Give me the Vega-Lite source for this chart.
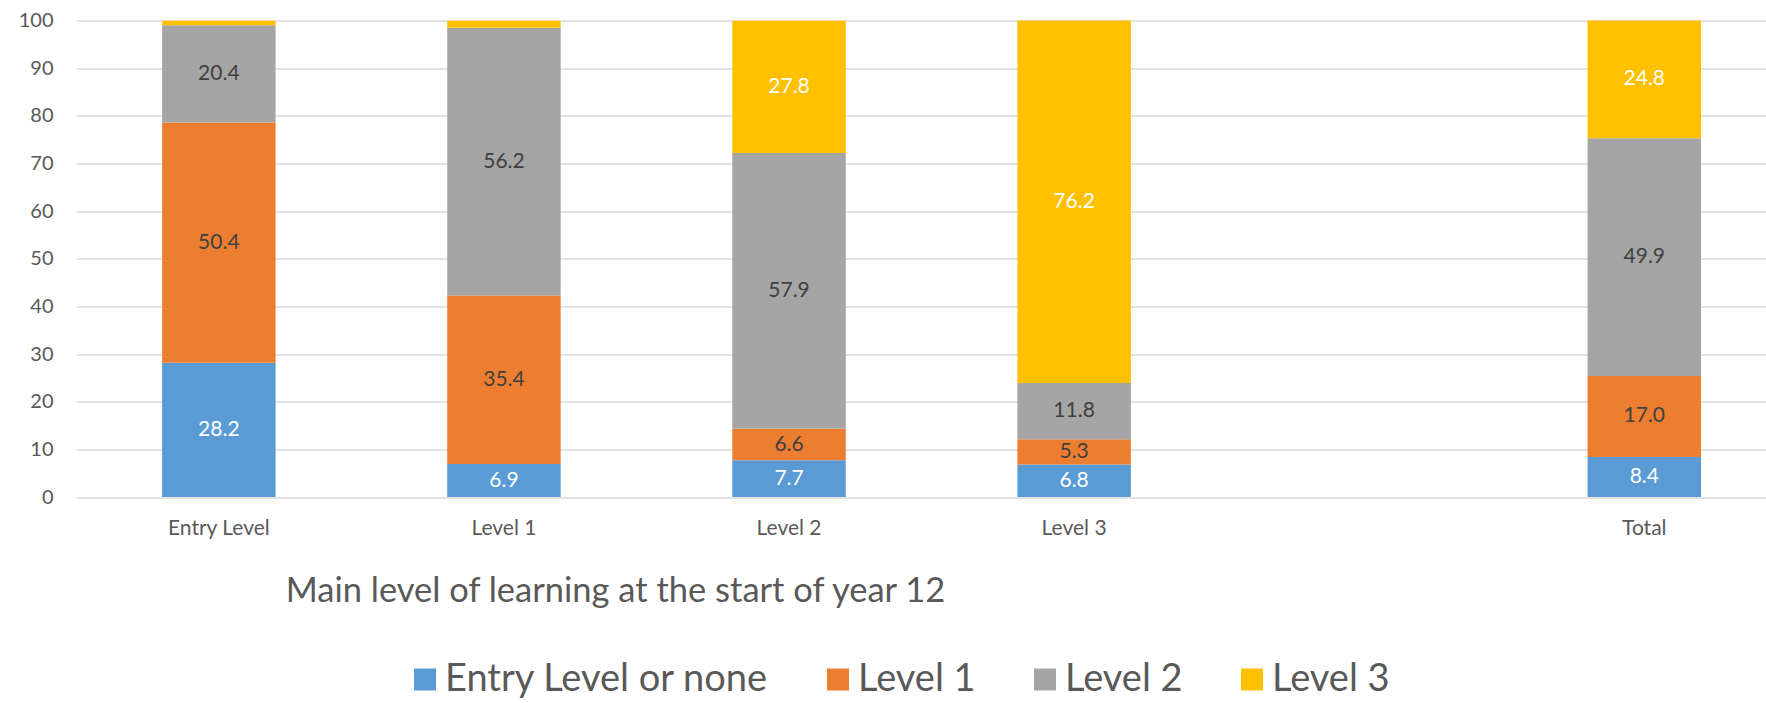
{
  "$schema": "https://vega.github.io/schema/vega-lite/v6.json",
  "autosize": {"type": "none"},
  "width": 1690,
  "height": 476.5,
  "padding": {"left": 76, "top": 20.5, "right": 0, "bottom": 206},
  "background": "white",
  "config": {
    "font": "Lato",
    "view": {"stroke": null},
    "axis": {"labelColor": "#595959", "titleColor": "#595959"}
  },
  "data": {
    "values": [
      {"category": "Entry Level", "series": "Entry Level or none", "value": 28.2},
      {"category": "Entry Level", "series": "Level 1", "value": 50.4},
      {"category": "Entry Level", "series": "Level 2", "value": 20.4},
      {"category": "Entry Level", "series": "Level 3", "value": 1.0},
      {"category": "Level 1", "series": "Entry Level or none", "value": 6.9},
      {"category": "Level 1", "series": "Level 1", "value": 35.4},
      {"category": "Level 1", "series": "Level 2", "value": 56.2},
      {"category": "Level 1", "series": "Level 3", "value": 1.5},
      {"category": "Level 2", "series": "Entry Level or none", "value": 7.7},
      {"category": "Level 2", "series": "Level 1", "value": 6.6},
      {"category": "Level 2", "series": "Level 2", "value": 57.9},
      {"category": "Level 2", "series": "Level 3", "value": 27.8},
      {"category": "Level 3", "series": "Entry Level or none", "value": 6.8},
      {"category": "Level 3", "series": "Level 1", "value": 5.3},
      {"category": "Level 3", "series": "Level 2", "value": 11.8},
      {"category": "Level 3", "series": "Level 3", "value": 76.2},
      {"category": "Total", "series": "Entry Level or none", "value": 8.4},
      {"category": "Total", "series": "Level 1", "value": 17.0},
      {"category": "Total", "series": "Level 2", "value": 49.9},
      {"category": "Total", "series": "Level 3", "value": 24.8}
    ]
  },
  "encoding": {
    "x": {
      "field": "category",
      "type": "nominal",
      "sort": null,
      "scale": {
        "domain": ["Entry Level", "Level 1", "Level 2", "Level 3", " ", "Total"],
        "paddingInner": 0.602,
        "paddingOuter": 0.265,
        "align": 0.57
      },
      "axis": {
        "title": "Main level of learning at the start of year 12",
        "titleFontSize": 34.5,
        "titleFontWeight": "normal",
        "titleX": 539,
        "titleY": 94,
        "titleAlign": "center",
        "titleBaseline": "middle",
        "labelAngle": 0,
        "labelFontSize": 21,
        "labelPadding": 20,
        "labelBaseline": "top",
        "domain": false,
        "ticks": false,
        "grid": false
      }
    }
  },
  "layer": [
    {
      "mark": {"type": "bar", "clip": true},
      "encoding": {
        "y": {
          "field": "value",
          "type": "quantitative",
          "stack": "zero",
          "scale": {"domain": [0, 100], "nice": false},
          "axis": {
            "title": null,
            "values": [0, 10, 20, 30, 40, 50, 60, 70, 80, 90, 100],
            "labelFontSize": 20,
            "labelPadding": 23,
            "domain": false,
            "ticks": false,
            "grid": true,
            "gridColor": "#D9D9D9",
            "gridWidth": 1.5
          }
        },
        "color": {
          "field": "series",
          "type": "nominal",
          "scale": {
            "domain": ["Entry Level or none", "Level 1", "Level 2", "Level 3"],
            "range": ["#5B9BD5", "#ED7D31", "#A5A5A5", "#FFC000"]
          },
          "legend": {
            "title": null,
            "orient": "none",
            "direction": "horizontal",
            "legendX": 330,
            "legendY": 640,
            "padding": 0,
            "symbolType": "square",
            "symbolSize": 484,
            "symbolStrokeWidth": 0,
            "labelFontSize": 38,
            "labelColor": "#595959",
            "labelOffset": 1,
            "columnPadding": 50,
            "labelLimit": 600
          }
        },
        "order": {"field": "series", "sort": "ascending"}
      }
    },
    {
      "transform": [
        {"stack": "value", "groupby": ["category"], "sort": [{"field": "series", "order": "ascending"}], "as": ["y0", "y1"]},
        {"calculate": "(datum.y0 + datum.y1) / 2", "as": "mid"},
        {"filter": "datum.value >= 2"}
      ],
      "mark": {"type": "text", "fontSize": 21, "baseline": "middle", "align": "center"},
      "encoding": {
        "y": {"field": "mid", "type": "quantitative"},
        "text": {"field": "value", "type": "quantitative", "format": ".1f"},
        "color": {
          "condition": {"test": "datum.series === 'Entry Level or none' || datum.series === 'Level 3'", "value": "#FFFFFF"},
          "value": "#404040"
        }
      }
    }
  ]
}
